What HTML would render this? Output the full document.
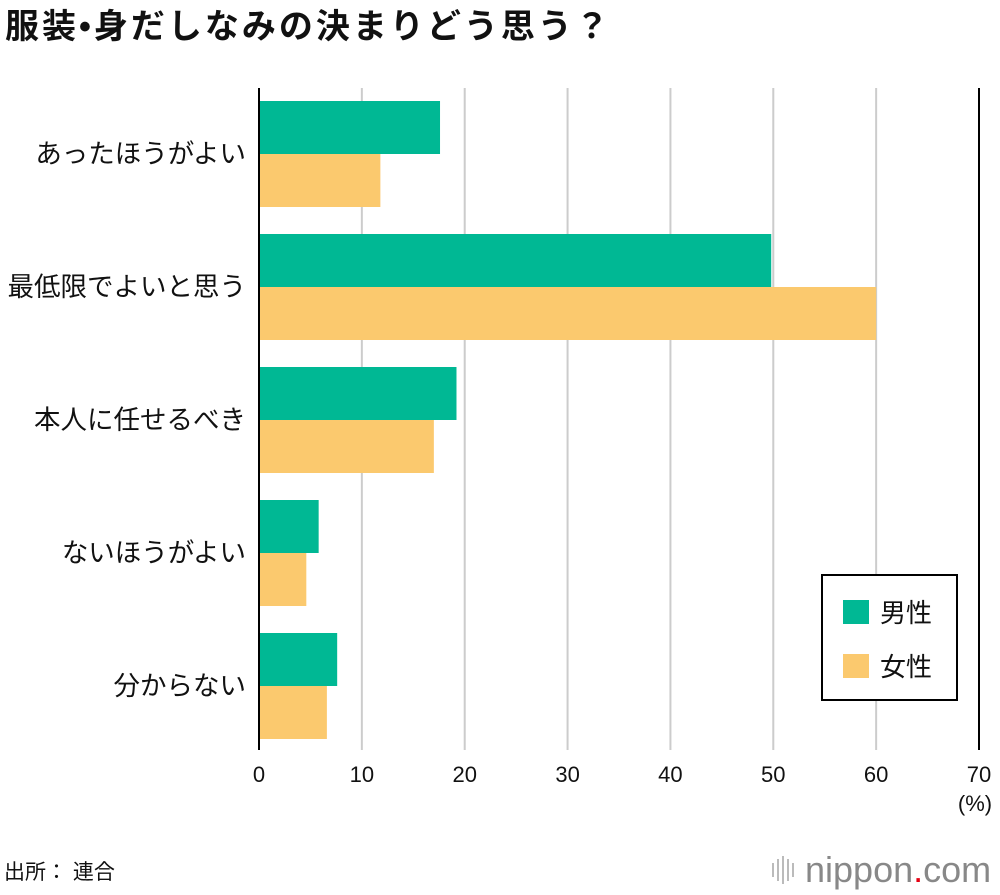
<!DOCTYPE html>
<html><head><meta charset="utf-8">
<style>
body{margin:0;background:#fff;font-family:"Liberation Sans","Noto Sans CJK JP",sans-serif;}
svg text{font-family:"Liberation Sans","Noto Sans CJK JP",sans-serif;}
</style></head>
<body>
<svg id="chart" width="1000" height="890" xmlns="http://www.w3.org/2000/svg">
<text x="5" y="38" font-size="34" font-weight="bold" letter-spacing="3" fill="#111">服装•身だしなみの決まりどう思う？</text>
<g id="grid"></g>
<g id="bars"></g>
<g id="labels"></g>
<line x1="259" y1="88" x2="259" y2="750" stroke="#000" stroke-width="2"/>
<text x="975" y="811" font-size="22" text-anchor="middle" fill="#111">(%)</text>
<g>
<rect x="822" y="575" width="135" height="125" fill="#fff" stroke="#000" stroke-width="2"/>
<rect x="843" y="600" width="26" height="24" fill="#00b894"/>
<text x="880" y="622" font-size="26" fill="#111">男性</text>
<rect x="843" y="654" width="26" height="24" fill="#fbc96e"/>
<text x="880" y="676" font-size="26" fill="#111">女性</text>
</g>
<text x="4" y="879" font-size="21" fill="#111">出所： 連合</text>
<g>
<g stroke="#bbb" stroke-width="2">
<line x1="773" y1="863" x2="773" y2="877"/><line x1="778" y1="859" x2="778" y2="881"/><line x1="783" y1="856" x2="783" y2="884"/><line x1="788" y1="859" x2="788" y2="881"/><line x1="793" y1="863" x2="793" y2="877"/>
</g>
<text x="805" y="882" font-size="36" fill="#888">nippon<tspan fill="#e60012">.</tspan>com</text>
</g>
</svg>
<script>
const categories=["あったほうがよい","最低限でよいと思う","本人に任せるべき","ないほうがよい","分からない"];
const maleValues=[17.6,49.8,19.2,5.8,7.6];
const femaleValues=[11.8,60.0,17.0,4.6,6.6];
const ticks=[0,10,20,30,40,50,60,70];
const NS="http://www.w3.org/2000/svg";
const x0=259,x1=979,xMax=70;
function xs(v){return x0+(x1-x0)*v/xMax;}
function yb(i){return 101+i*133;}
const grid=document.getElementById('grid'),bars=document.getElementById('bars'),labels=document.getElementById('labels');
ticks.forEach(t=>{
  if(t>0){
    const l=document.createElementNS(NS,'line');
    l.setAttribute('x1',xs(t));l.setAttribute('x2',xs(t));l.setAttribute('y1',88);l.setAttribute('y2',750);
    l.setAttribute('stroke',t===70?'#000':'#ccc');l.setAttribute('stroke-width',2);
    
    
    grid.appendChild(l);
  }
  const tx=document.createElementNS(NS,'text');
  tx.setAttribute('x',xs(t));tx.setAttribute('y',782);tx.setAttribute('font-size',22);tx.setAttribute('text-anchor','middle');tx.setAttribute('fill','#111');
  tx.textContent=t;
  
  
  grid.appendChild(tx);
});
categories.forEach((c,i)=>{
  const y=yb(i);
  [[maleValues[i],'#00b894',y,'male'],[femaleValues[i],'#fbc96e',y+53,'female']].forEach(([v,col,yy,s])=>{
    const r=document.createElementNS(NS,'rect');
    r.setAttribute('x',x0);r.setAttribute('y',yy);r.setAttribute('width',xs(v)-x0);r.setAttribute('height',53);r.setAttribute('fill',col);
    
    
    bars.appendChild(r);
  });
  const t=document.createElementNS(NS,'text');
  t.setAttribute('x',246);t.setAttribute('y',y+62);t.setAttribute('font-size',26.5);t.setAttribute('text-anchor','end');t.setAttribute('fill','#111');
  t.textContent=c;
  
  
  labels.appendChild(t);
});
</script>
</body></html>
